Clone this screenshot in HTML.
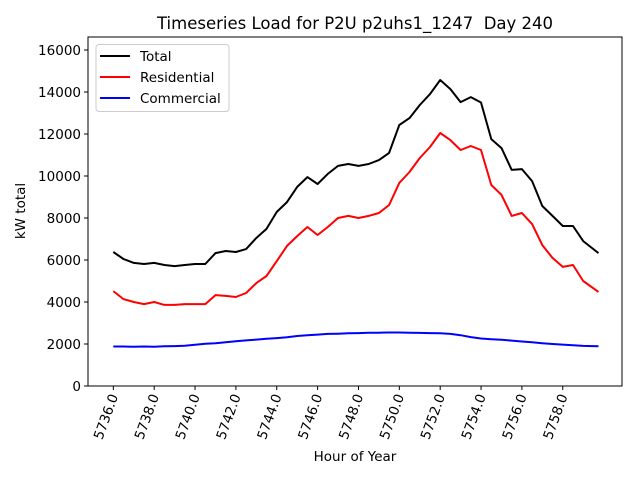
<!DOCTYPE html>
<html><head><meta charset="utf-8"><style>
body{margin:0;background:#fff;}
svg{display:block;font-family:"DejaVu Sans","Liberation Sans",sans-serif;}
</style></head><body>
<svg id="chart" width="640" height="480" viewBox="0 0 640 480">
<rect width="640" height="480" fill="#fff"/>
<text x="355" y="29" font-size="16.5" text-anchor="middle">Timeseries Load for P2U p2uhs1_1247 &#160;Day 240</text>
<g id="plot"></g>
<text x="355" y="461" font-size="13.5" text-anchor="middle">Hour of Year</text>
<text x="25" y="211" font-size="13.5" text-anchor="middle" transform="rotate(-90 25 211)">kW total</text>
</svg>
<script>
const hours=[5736,5736.5,5737,5737.5,5738,5738.5,5739,5739.5,5740,5740.5,5741,5741.5,5742,5742.5,5743,5743.5,5744,5744.5,5745,5745.5,5746,5746.5,5747,5747.5,5748,5748.5,5749,5749.5,5750,5750.5,5751,5751.5,5752,5752.5,5753,5753.5,5754,5754.5,5755,5755.5,5756,5756.5,5757,5757.5,5758,5758.5,5759,5759.75];
const total=[6380,6050,5860,5810,5860,5760,5710,5760,5810,5810,6330,6430,6380,6520,7050,7480,8290,8760,9480,9950,9620,10100,10480,10570,10480,10570,10760,11100,12430,12760,13380,13900,14570,14140,13520,13760,13500,11760,11330,10290,10330,9760,8570,8100,7620,7620,6900,6330];
const residential=[4520,4140,4000,3900,4000,3860,3860,3900,3900,3900,4330,4290,4240,4430,4900,5240,5950,6670,7140,7570,7190,7570,8000,8100,8000,8100,8240,8620,9670,10190,10860,11380,12050,11710,11240,11430,11240,9570,9100,8100,8240,7710,6710,6100,5670,5760,5000,4480];
const commercial=[1880,1880,1870,1880,1870,1890,1900,1920,1960,2010,2040,2080,2130,2170,2210,2250,2280,2320,2380,2420,2450,2480,2490,2510,2520,2540,2540,2550,2550,2540,2530,2520,2510,2480,2420,2330,2260,2230,2200,2160,2120,2080,2040,2000,1970,1940,1910,1890];
const yTicks=[0,2000,4000,6000,8000,10000,12000,14000,16000];
const xTicks=[5736,5738,5740,5742,5744,5746,5748,5750,5752,5754,5756,5758];
const seriesNames=["Total","Residential","Commercial"];
const seriesColors=["#000000","#ff0000","#0000ff"];

const L=88,R=622,T=37,B=386;
const xMin=5734.76,xMax=5760.9,yMin=0,yMax=16620;
const sx=h=>L+(h-xMin)/(xMax-xMin)*(R-L);
const sy=v=>B-(v-yMin)/(yMax-yMin)*(B-T);
const NS="http://www.w3.org/2000/svg";
const g=document.getElementById('plot');
function mk(tag,attrs,parent){const e=document.createElementNS(NS,tag);for(const k in attrs)e.setAttribute(k,attrs[k]);(parent||g).appendChild(e);return e;}

const data=[total,residential,commercial];
data.forEach((vals,i)=>{
  const p=mk('polyline',{points:vals.map((v,j)=>sx(hours[j]).toFixed(1)+','+sy(v).toFixed(1)).join(' '),fill:'none',stroke:seriesColors[i],'stroke-width':2,'stroke-linejoin':'round'});
  
  
});

const frame=mk('rect',{x:L,y:T,width:R-L,height:B-T,fill:'none',stroke:'#000','stroke-width':1});



yTicks.forEach(v=>{
  const y=sy(v);
  const t=mk('line',{x1:L-4,x2:L,y1:y,y2:y,stroke:'#000'});
  
  
  const lb=mk('text',{x:L-7,y:y+5,'font-size':13.5,'text-anchor':'end'});
  lb.textContent=String(v);
  
  
});
xTicks.forEach(h=>{
  const x=sx(h);
  const t=mk('line',{x1:x,x2:x,y1:B,y2:B+4,stroke:'#000'});
  
  
  const lb=mk('text',{x:x+5,y:B+10,'font-size':13.5,'text-anchor':'end',transform:'rotate(-70 '+(x+5)+' '+(B+10)+')'});
  lb.textContent=h.toFixed(1);
  
  
});

const lg=mk('g',{});


mk('rect',{x:96,y:44.5,width:133,height:67,rx:3,fill:'#fff',stroke:'#cccccc','stroke-width':1},lg);
seriesNames.forEach((n,i)=>{
  const y=56+i*21;
  const e=mk('g',{},lg);
  
  
  mk('line',{x1:100,x2:130,y1:y,y2:y,stroke:seriesColors[i],'stroke-width':2},e);
  const t=mk('text',{x:140,y:y+5,'font-size':13.5},e);
  t.textContent=n;
});
</script>
</body></html>
